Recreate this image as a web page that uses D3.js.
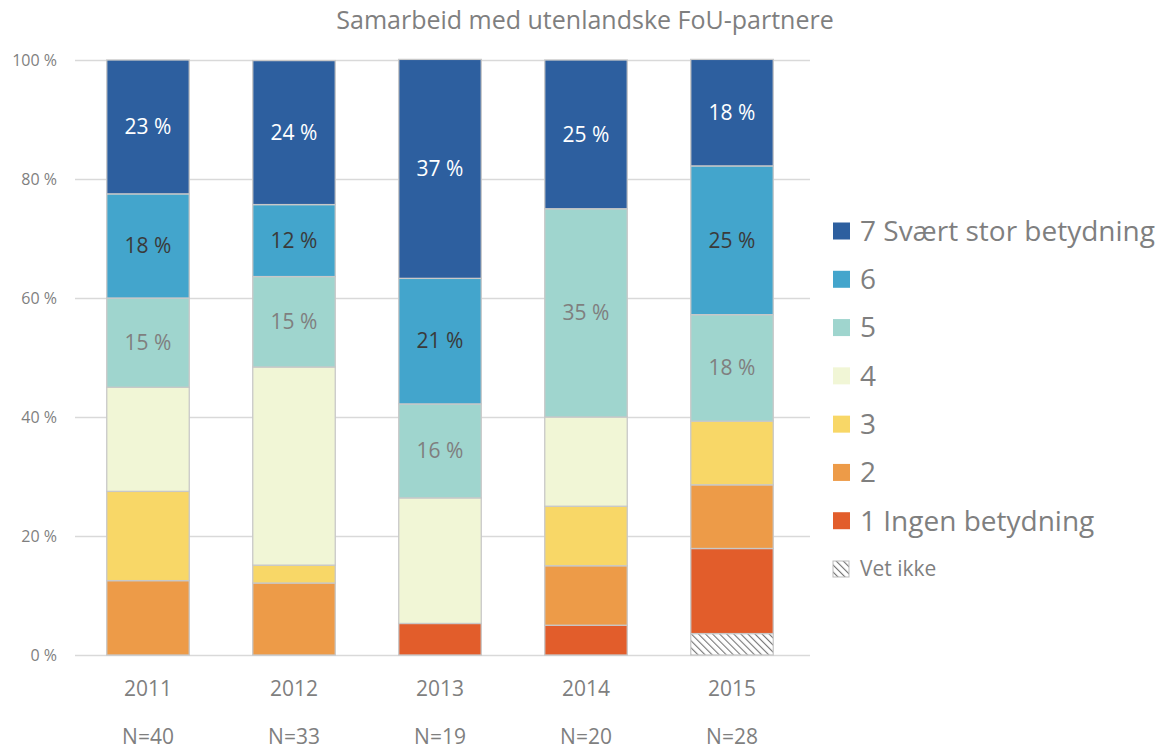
<!DOCTYPE html>
<html>
<head>
<meta charset="utf-8">
<script src="https://cdn.jsdelivr.net/npm/d3@7"></script>
<style>
  body { margin: 0; background: #fff; }
  text { font-family: "Open Sans", "Noto Sans", sans-serif; }
</style>
</head>
<body>
<svg id="chart" width="1165" height="749"></svg>
<script>
// data, in percent of respondents per year
const years = ["2011", "2012", "2013", "2014", "2015"];
const counts = ["N=40", "N=33", "N=19", "N=20", "N=28"];
const seriesKeys = ["vetIkke", "s1", "s2", "s3", "s4", "s5", "s6", "s7"];
const seriesNames = ["Vet ikke", "1 Ingen betydning", "2", "3", "4", "5", "6", "7 Svært stor betydning"];
const vetIkke = [0, 0, 0, 0, 3.6];
const s1 = [0, 0, 5.3, 5, 14.3];
const s2 = [12.5, 12.1, 0, 10, 10.7];
const s3 = [15, 3.0, 0, 10, 10.7];
const s4 = [17.5, 33.3, 21.1, 15, 0];
const s5 = [15, 15.2, 15.8, 35, 17.9];
const s6 = [17.5, 12.1, 21.1, 0, 25];
const s7 = [22.5, 24.2, 36.8, 25, 17.9];
const yTicks = [0, 20, 40, 60, 80, 100];

const colors = {
  vetIkke: "url(#hatch)", s1: "#e25d2b", s2: "#ed9b48", s3: "#f8d767",
  s4: "#f1f6d6", s5: "#9fd5ce", s6: "#43a5cc", s7: "#2d5f9f"
};
const labelColors = { s5: "#7f7f7f", s6: "#3a3a3a", s7: "#ffffff" };

const seriesData = { vetIkke, s1, s2, s3, s4, s5, s6, s7 };
const rows = years.map((y, i) => {
  const r = { year: y };
  seriesKeys.forEach(k => r[k] = seriesData[k][i]);
  return r;
});

const svg = d3.select("#chart");
const margin = { top: 60, left: 75, right: 360, bottom: 94 };
const W = +svg.attr("width"), H = +svg.attr("height");

const x = d3.scaleBand().domain(years)
  .range([margin.left, W - margin.right])
  .paddingInner(0.435).paddingOuter(0.2175);
const y = d3.scaleLinear().domain([0, 100]).range([H - margin.bottom, margin.top]);

// hatch pattern for "Vet ikke"
const defs = svg.append("defs");
const pat = defs.append("pattern").attr("id", "hatch")
  .attr("patternUnits", "userSpaceOnUse").attr("width", 5).attr("height", 5)
  .attr("patternTransform", "rotate(-45)");
pat.append("rect").attr("width", 5).attr("height", 5).attr("fill", "#fff");
pat.append("line").attr("x1", 0).attr("y1", 0).attr("x2", 0).attr("y2", 5)
  .attr("stroke", "#777").attr("stroke-width", 2.2);

// title
svg.append("text").attr("x", 585).attr("y", 29)
  .attr("text-anchor", "middle").attr("font-size", 25).attr("fill", "#7f7f7f")
  .text("Samarbeid med utenlandske FoU-partnere");

// gridlines + y axis
const yAxis = d3.axisLeft(y).tickValues(yTicks).tickFormat(d => d + " %")
  .tickSize(-(W - margin.right + 5 - margin.left)).tickPadding(18);
const gy = svg.append("g").attr("transform", `translate(${margin.left},0)`).call(yAxis);
gy.select(".domain").remove();
gy.selectAll(".tick line").attr("stroke", "#d9d9d9").attr("stroke-width", 1.3);
gy.selectAll(".tick text").attr("fill", "#7f7f7f").attr("font-size", 16)
  .style("font-family", "'Open Sans', sans-serif");

// stacked bars
const stack = d3.stack().keys(seriesKeys)(rows);
const layers = svg.append("g").selectAll("g").data(stack).join("g")
  .attr("fill", d => colors[d.key]);
layers.selectAll("rect").data(d => d.filter(p => p[1] - p[0] > 0)).join("rect")
  .attr("x", d => x(d.data.year))
  .attr("width", x.bandwidth())
  .attr("y", d => y(d[1]))
  .attr("height", d => y(d[0]) - y(d[1]))
  .attr("stroke", "#c8c8c8").attr("stroke-width", 1.3);

// value labels on series 5, 6, 7
stack.filter(s => labelColors[s.key]).forEach(s => {
  svg.append("g").selectAll("text").data(s.filter(p => p[1] - p[0] > 0)).join("text")
    .attr("x", d => x(d.data.year) + x.bandwidth() / 2)
    .attr("y", d => y((d[0] + d[1]) / 2))
    .attr("dy", "0.35em")
    .attr("text-anchor", "middle").attr("font-size", 21)
    .attr("fill", labelColors[s.key])
    .text(d => Math.round(d[1] - d[0]) + " %");
});

// category axis: year and N
const gx = svg.append("g");
gx.selectAll("text.year").data(years).join("text").attr("class", "year")
  .attr("x", d => x(d) + x.bandwidth() / 2).attr("y", 696)
  .attr("text-anchor", "middle").attr("font-size", 21).attr("fill", "#7f7f7f")
  .text(d => d);
gx.selectAll("text.n").data(years).join("text").attr("class", "n")
  .attr("x", d => x(d) + x.bandwidth() / 2).attr("y", 744)
  .attr("text-anchor", "middle").attr("font-size", 21).attr("fill", "#7f7f7f")
  .text((d, i) => counts[i]);

// legend, top to bottom: 7 .. 1, Vet ikke
const legendKeys = seriesKeys.slice().reverse();
const legend = svg.append("g").attr("transform", "translate(833,0)");
const ly = d3.scalePoint().domain(legendKeys).range([231, 569]);
legendKeys.forEach(k => {
  const small = k === "vetIkke";
  const sz = small ? 16 : 17;
  legend.append("rect")
    .attr("x", 0).attr("y", ly(k) - sz / 2).attr("width", sz).attr("height", sz)
    .attr("fill", colors[k]).attr("stroke", small ? "#bbb" : "none");
  legend.append("text")
    .attr("x", 27).attr("y", ly(k)).attr("dy", "0.35em")
    .attr("font-size", small ? 21 : 28).attr("fill", "#7f7f7f")
    .text(seriesNames[seriesKeys.indexOf(k)]);
});
</script>
</body>
</html>
